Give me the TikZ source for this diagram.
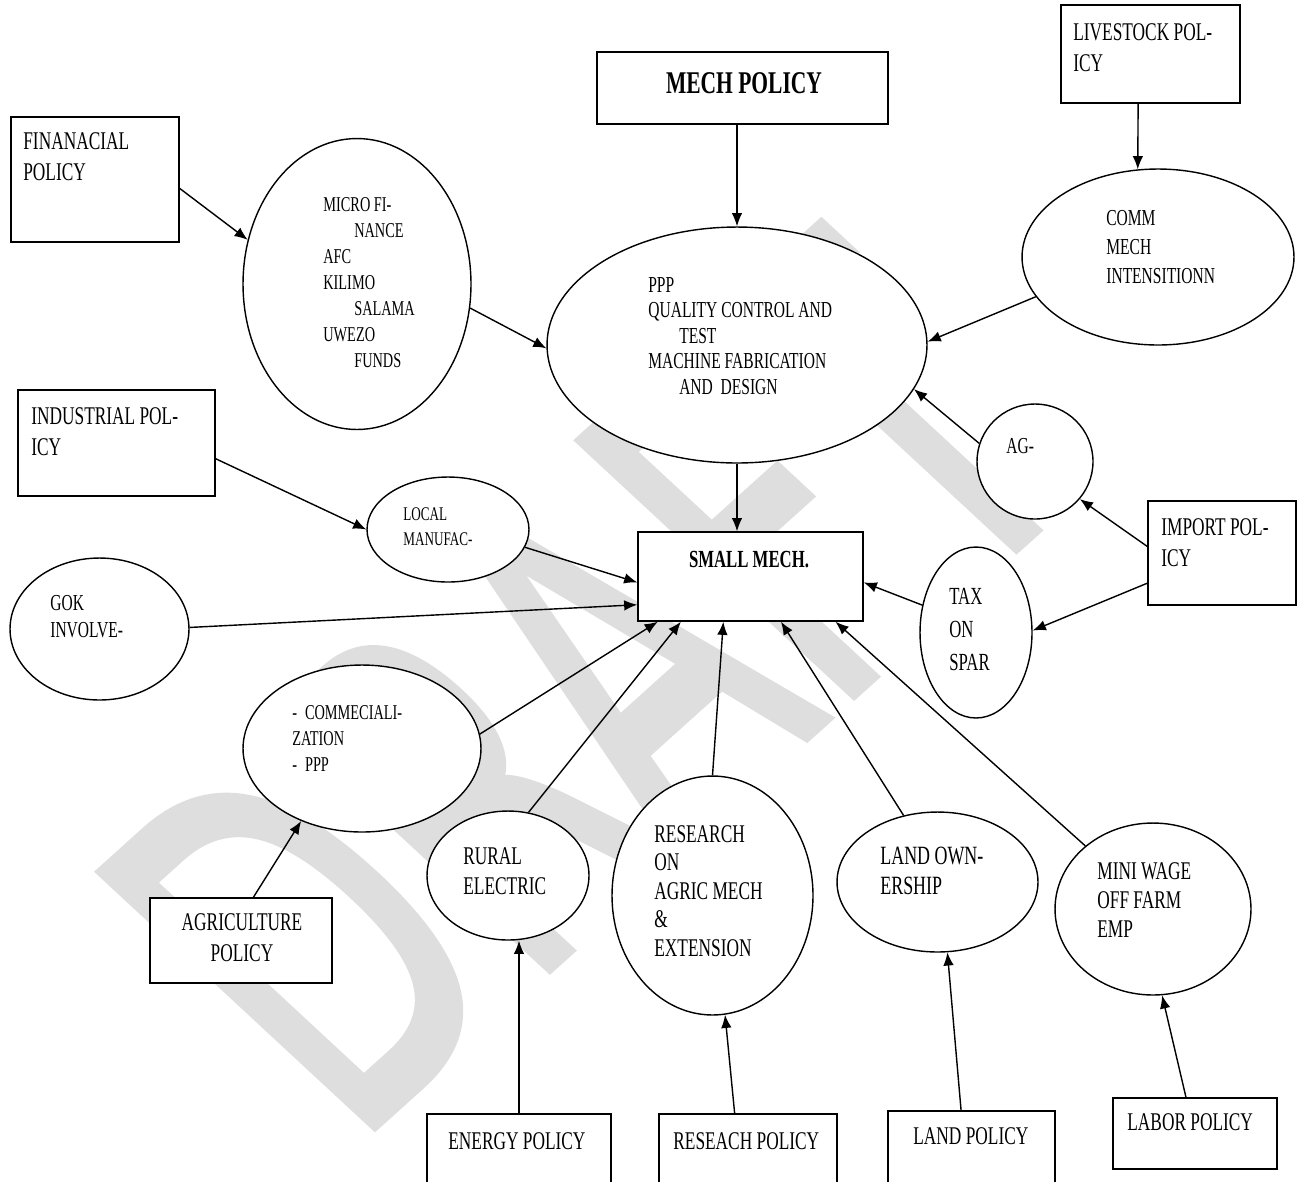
\documentclass[tikz,border=0pt]{standalone}
\usepackage{fontspec}
\setmainfont{Liberation Serif}[FakeStretch=0.68]
\newfontfamily\wmfont{DejaVu Sans}[FakeBold=2]
\usetikzlibrary{arrows.meta, shapes.geometric}
\newcommand{\polind}{\hspace*{17.6pt}}

\begin{document}
\begin{tikzpicture}[x=0.02cm, y=-0.02cm,
    polbox/.style={rectangle, draw=black, fill=white, line width=0.8pt, inner sep=0pt},
    bubble/.style={ellipse, draw=black, fill=white, line width=0.8pt, inner sep=0pt},
    boxtxt/.style={anchor=north west, inner sep=0pt, align=left, font=\fontsize{14.5}{18}\selectfont},
    bubtxt/.style={anchor=north west, inner sep=0pt, align=left, font=\fontsize{13}{15}\selectfont},
    link/.style={draw=black, line width=0.8pt, -{Latex[length=7.5pt, width=6pt]}},
    wmark/.style={text=black!13, inner sep=0pt, font=\fontsize{290}{290}\wmfont}
]
    \useasboundingbox (0,0) rectangle (1297,1181);

    % Watermark
    \begin{scope}[shift={(351,1147)}, rotate=42, xscale=0.6, xslant=-0.15]
        \node[wmark, transform shape, anchor=base west] (wm) at (0,0) {DRAFT};
    \end{scope}

    % Policy boxes
    \node[polbox, minimum width=3.36cm, minimum height=2.5cm] (fin) at (95,179.5) {};
    \node[polbox, minimum width=5.82cm, minimum height=1.44cm] (mech) at (742.5,88) {};
    \node[polbox, minimum width=3.58cm, minimum height=1.96cm] (live) at (1150.5,54) {};
    \node[polbox, minimum width=3.94cm, minimum height=2.12cm] (ind) at (116.5,443) {};
    \node[polbox, minimum width=4.5cm, minimum height=1.78cm] (small) at (750.5,576.5) {};
    \node[polbox, minimum width=2.96cm, minimum height=2.08cm] (imp) at (1222,553) {};
    \node[polbox, minimum width=3.64cm, minimum height=1.7cm] (agri) at (241,940.5) {};
    \node[polbox, minimum width=3.68cm, minimum height=1.72cm] (energy) at (519,1157) {};
    \node[polbox, minimum width=3.56cm, minimum height=1.72cm] (resp) at (748,1157) {};
    \node[polbox, minimum width=3.34cm, minimum height=1.78cm] (landp) at (971.5,1155.5) {};
    \node[polbox, minimum width=3.28cm, minimum height=1.42cm] (labor) at (1195,1133.5) {};

    % Bubbles
    \node[bubble, minimum width=4.56cm, minimum height=5.82cm] (micro) at (357,284) {};
    \node[bubble, minimum width=7.6cm, minimum height=4.72cm] (ppp) at (737,345) {};
    \node[bubble, minimum width=5.44cm, minimum height=3.52cm] (comm) at (1158,257) {};
    \node[bubble, minimum width=2.32cm, minimum height=2.3cm] (ag) at (1035,461.5) {};
    \node[bubble, minimum width=2.24cm, minimum height=3.42cm] (tax) at (976,632.5) {};
    \node[bubble, minimum width=3.24cm, minimum height=2.1cm] (local) at (448,529.5) {};
    \node[bubble, minimum width=3.58cm, minimum height=2.84cm] (gok) at (99.5,629) {};
    \node[bubble, minimum width=4.76cm, minimum height=3.34cm] (comml) at (362,748.5) {};
    \node[bubble, minimum width=3.24cm, minimum height=2.58cm] (rural) at (508,875.5) {};
    \node[bubble, minimum width=4.02cm, minimum height=4.78cm] (research) at (712.5,895.5) {};
    \node[bubble, minimum width=4.02cm, minimum height=2.8cm] (landown) at (937.5,882) {};
    \node[bubble, minimum width=3.92cm, minimum height=3.44cm] (mini) at (1153,909) {};

    % Links
    \draw[link] (fin.-6) -- (micro.158);
    \draw[link] (micro.-12) -- (ppp.181);
    \draw[link] (ppp.north |- mech.south) -- (ppp.north);
    \draw[link] (live.-104) -- (comm.103);
    \draw[link] (comm.198) -- (ppp.1);
    \draw[link] (ag.162) -- (ppp.-14);
    \draw[link] (imp.175) -- (ag.-40);
    \draw[link] (imp.202) -- (tax.2);
    \draw[link] (tax.153) -- (small.-3);
    \draw[link] (ppp.south) -- (ppp.south |- small.north);
    \draw[link] (ind.-9) -- (local.180);
    \draw[link] (local.-13) -- (small.183);
    \draw[link] (gok.1) -- (small.194);
    \draw[link] (comml.7) -- (small.206);
    \draw[link] (rural.72) -- (small.213);
    \draw[link] (research.north) -- (small.239);
    \draw[link] (landown.117) -- (small.-56);
    \draw[link] (mini.137) -- (small.-28);
    \draw[link] (agri.74) -- (comml.-130);
    \draw[link] (energy.north) -- (energy.north |- rural.south);
    \draw[link] (resp.107) -- (research.-84);
    \draw[link] (landp.103) -- (landown.-82);
    \draw[link] (labor.104) -- (mini.-84);

    % Box texts
    \node[boxtxt] (finT) at (23,132) {FINANACIAL\\POLICY};
    \node[anchor=north, inner sep=0pt, font=\fontsize{18}{21}\selectfont\bfseries] (mechT) at (744,72) {MECH POLICY};
    \node[boxtxt] (liveT) at (1073,23) {LIVESTOCK POL-\\ICY};
    \node[boxtxt] (indT) at (31,407) {INDUSTRIAL POL-\\ICY};
    \node[boxtxt] (impT) at (1161,518) {IMPORT POL-\\ICY};
    \node[boxtxt, anchor=north, align=center] (agriT) at (242,913) {AGRICULTURE\\POLICY};
    \node[boxtxt] (energyT) at (448,1132) {ENERGY POLICY};
    \node[boxtxt] (respT) at (673,1132) {RESEACH POLICY};
    \node[boxtxt] (landpT) at (913,1127) {LAND POLICY};
    \node[boxtxt] (laborT) at (1127,1113) {LABOR POLICY};
    \node[anchor=north, inner sep=0pt, font=\fontsize{14}{16}\selectfont\bfseries] (smallT) at (749,551) {SMALL MECH.};

    % Bubble texts
    \node[bubtxt, font=\fontsize{12}{14.8}\selectfont] (microT) at (323,197) {MICRO FI-\\\polind NANCE\\AFC\\KILIMO\\\polind SALAMA\\UWEZO\\\polind FUNDS};
    \node[bubtxt, font=\fontsize{13}{14.5}\selectfont] (pppT) at (648,277) {PPP\\QUALITY CONTROL AND\\\polind TEST\\MACHINE FABRICATION\\\polind AND\ \ DESIGN};
    \node[bubtxt, font=\fontsize{13}{16.5}\selectfont] (commT) at (1106,210) {COMM\\MECH\\INTENSITIONN};
    \node[bubtxt] (agT) at (1006,438) {AG-};
    \node[bubtxt, font=\fontsize{11}{14.5}\selectfont] (localT) at (403,507) {LOCAL\\MANUFAC-};
    \node[bubtxt, font=\fontsize{13}{15.4}\selectfont] (gokT) at (50,595) {GOK\\INVOLVE-};
    \node[bubtxt, font=\fontsize{14}{18.8}\selectfont] (taxT) at (949,588) {TAX\\ON\\SPAR};
    \node[bubtxt, font=\fontsize{12}{14.8}\selectfont] (commlT) at (292,705) {-\hspace{4.5pt}COMMECIALI-\\ZATION\\-\hspace{4.5pt}PPP};
    \node[bubtxt, font=\fontsize{14.5}{17}\selectfont] (ruralT) at (463,847) {RURAL\\ELECTRIC};
    \node[bubtxt, font=\fontsize{14.5}{16.2}\selectfont] (researchT) at (654,825) {RESEARCH\\ON\\AGRIC MECH\\\&\\EXTENSION};
    \node[bubtxt, font=\fontsize{15}{17}\selectfont] (landownT) at (880,847) {LAND OWN-\\ERSHIP};
    \node[bubtxt, font=\fontsize{14.5}{16.5}\selectfont] (miniT) at (1097,862) {MINI WAGE\\OFF FARM\\EMP};
\end{tikzpicture}
\end{document}
